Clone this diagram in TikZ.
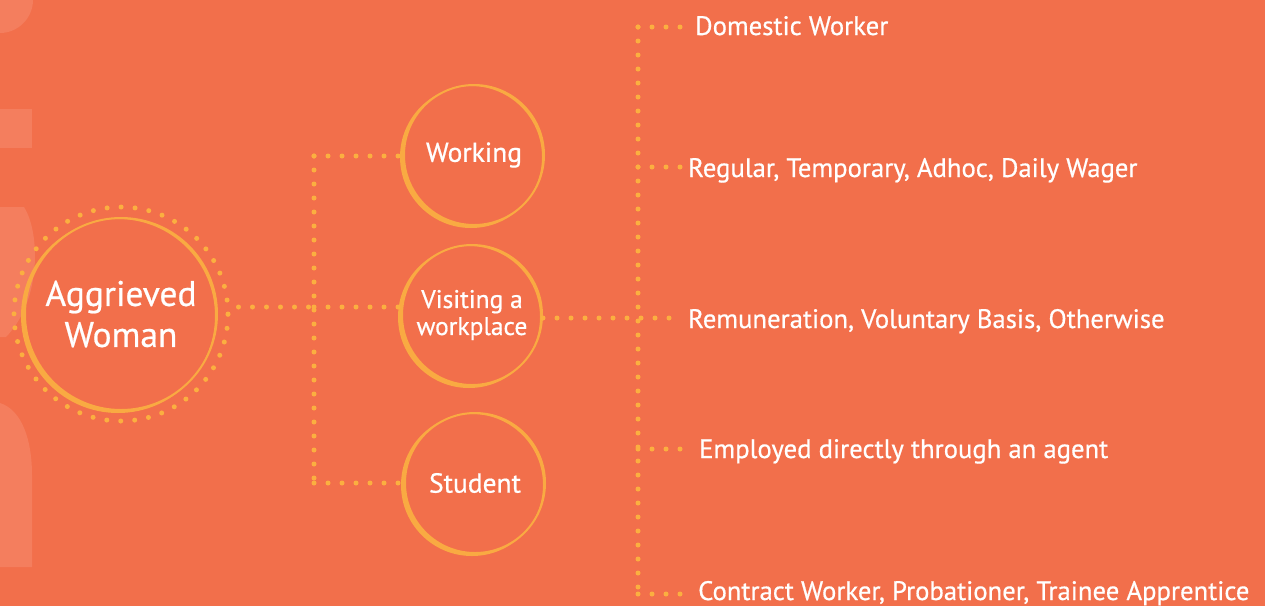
\documentclass[tikz,border=0pt]{standalone}
\usepackage{fontspec}
\setmainfont{PT Sans}[RawFeature={embolden=0.6}]
\definecolor{bgorange}{HTML}{F26F4B}
\definecolor{ghost}{HTML}{F47E5E}
\definecolor{dotgold}{HTML}{FBAF40}
\definecolor{ringgold}{HTML}{F9AA42}
\tikzset{
    dots/.style={draw=dotgold, line width=5pt, line cap=round, dash pattern=on 0pt off 14pt},
    ring/.style={circle, draw=ringgold, line width=2pt, minimum size=140pt, inner sep=0pt,
        text=white, align=center, font=\fontsize{27.5}{27}\selectfont},
    leaf/.style={anchor=base west, inner sep=0pt, text=white, font=\fontsize{26.7}{30}\selectfont},
}

\begin{document}
\begin{tikzpicture}[x=1pt, y=-1pt]
    \fill[bgorange] (0,0) rectangle (1265,606);
    \useasboundingbox (0,0) rectangle (1265,606);
    \fill[ghost] (0,0) -- (33,0) .. controls (33,18) and (18,33) .. (0,33) -- cycle;
    \fill[ghost] (0,109) rectangle (32,148);
    \fill[ghost] (0,207) -- (24,207) .. controls (40,232) and (42,300) .. (6,337) -- (0,337) -- cycle;
    \fill[ghost] (0,403) .. controls (22,410) and (32,440) .. (32,475) -- (32,567) -- (0,567) -- cycle;

    \node[ring, minimum size=192pt, font=\fontsize{35.5}{41}\selectfont] (aw) at (121,314) {Aggrieved\\Woman};
    \node[circle, minimum size=214pt, inner sep=0pt, dots] (awring) at (aw) {};
    \node[ring] (work) at (474,155) {Working};
    \node[ring, font=\fontsize{25.5}{27}\selectfont] (visit) at (472,315) {Visiting a\\workplace};
    \node[ring] (stud) at (475,483) {Student};
    \foreach \n/\r/\R in {aw/96/97, work/70/71, visit/70/71, stud/70/71}{
        \fill[ringgold, even odd rule] (\n.center) circle[radius=\r pt]
            ([shift={(-3,2)}]\n.center) circle[radius=\R pt];
    }

    \node[leaf] (dom) at (695,35) {Domestic Worker};
    \node[leaf] (reg) at (688,177) {Regular, Temporary, Adhoc, Daily Wager};
    \node[leaf] (rem) at (688,328) {Remuneration, Voluntary Basis, Otherwise};
    \node[leaf] (emp) at (699,458) {Employed directly through an agent};
    \node[leaf] (con) at (698,600) {Contract Worker, Probationer, Trainee Apprentice};

    \coordinate (j0) at (314,156);
    \coordinate (j1) at (314,307);
    \coordinate (j2) at (314,483);
    \coordinate (k0) at (638,27);
    \coordinate (k1) at (638,167);
    \coordinate (k2) at (638,318);
    \coordinate (k3) at (638,449);
    \coordinate (k4) at (638,594);

    \draw[dots, shorten <=8pt] (awring.east |- j1) -- (j1);
    \draw[dots] (j0) -- (j2);
    \foreach \n/\j in {work/j0, visit/j1, stud/j2}{
        \draw[dots] (\j) -- (\j -| \n.west);
    }
    \draw[dots] (k0) -- (k4);
    \draw[dots, shorten >=6pt] (visit.east |- k2) -- (k2 -| rem.west);
    \foreach \n/\k in {dom/k0, reg/k1, emp/k3, con/k4}{
        \draw[dots, shorten >=6pt] (\k) -- (\k -| \n.west);
    }
\end{tikzpicture}
\end{document}
